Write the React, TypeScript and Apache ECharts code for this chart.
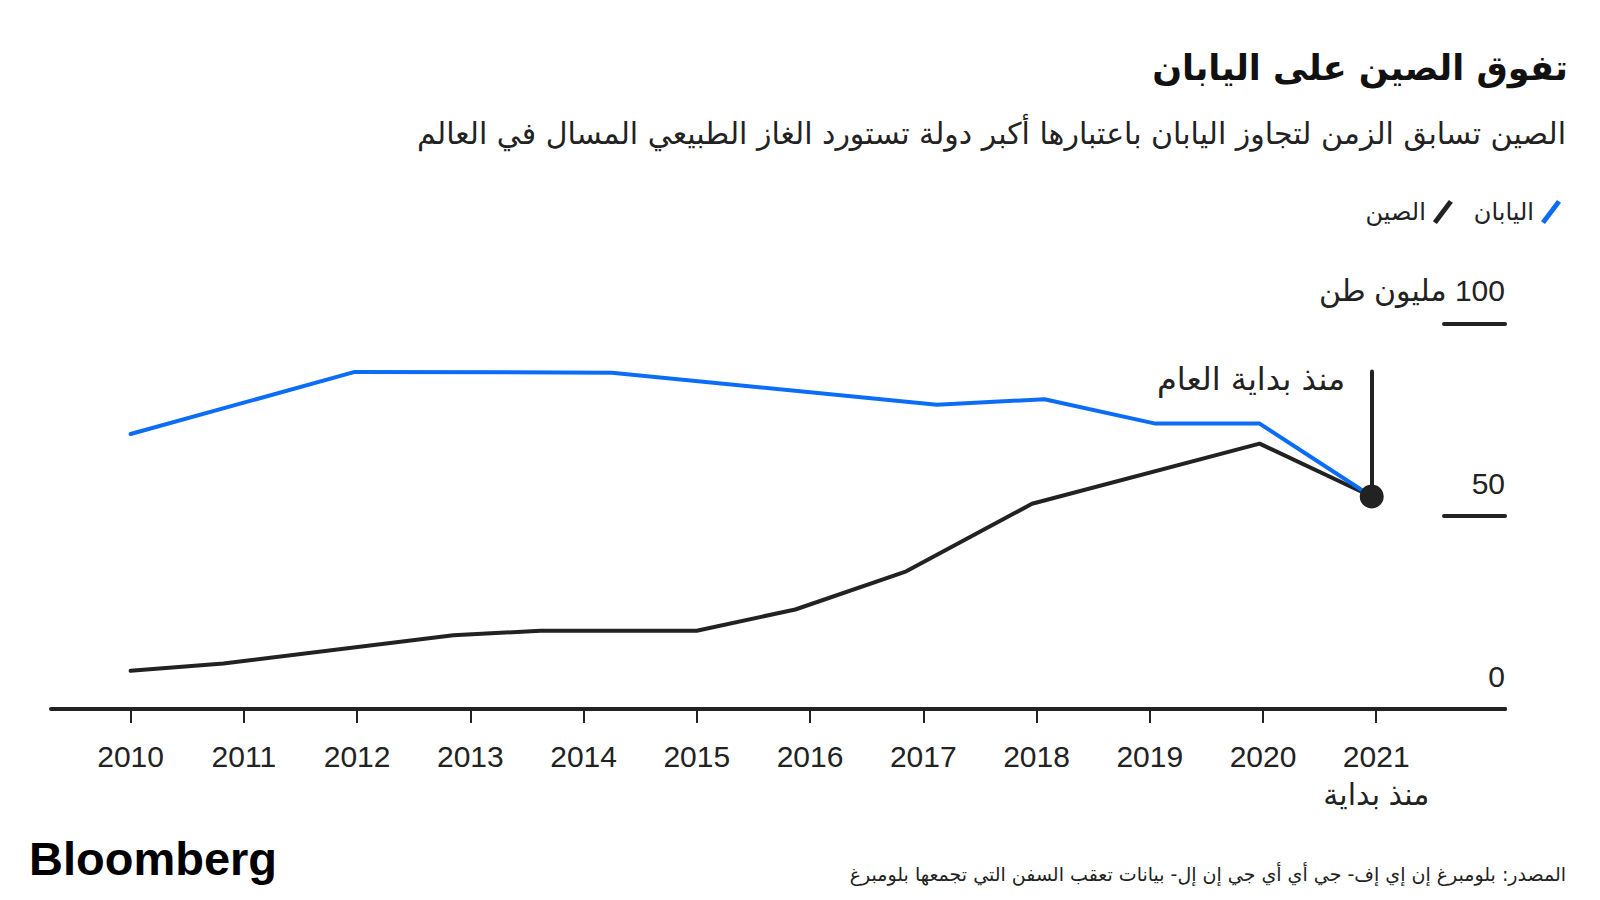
import React, { useEffect, useRef } from 'react';
import * as echarts from 'echarts';

// ---- Data ----
const yearTicks = [2010, 2011, 2012, 2013, 2014, 2015, 2016, 2017, 2018, 2019, 2020, 2021];
const yTicks = [0, 50, 100];

const japanName = 'اليابان';
const japanX = [2010.0, 2011.98, 2014.25, 2017.12, 2018.07, 2019.05, 2019.97, 2020.96];
const japanY = [71.3, 87.4, 87.2, 78.9, 80.3, 74.0, 74.0, 55.1];

const chinaName = 'الصين';
const chinaX = [2010.0, 2010.82, 2012.85, 2013.62, 2015.0, 2015.87, 2016.85, 2017.96, 2019.97, 2020.96];
const chinaY = [9.9, 11.8, 19.1, 20.3, 20.3, 25.8, 35.7, 53.2, 68.8, 55.1];

const annotationTop = 87.5;
const annotationText = 'منذ بداية العام';
const lastYearSub = 'منذ بداية';
const unitText = '\u200F100 مليون طن';

const titleText = 'تفوق الصين على اليابان';
const subtitleText = 'الصين تسابق الزمن لتجاوز اليابان باعتبارها أكبر دولة تستورد الغاز الطبيعي المسال في العالم';
const sourceText = '\u200Fالمصدر: بلومبرغ إن إي إف- جي أي أي جي إن إل- بيانات تعقب السفن التي تجمعها بلومبرغ';

const BLUE = '#0b6df6';
const INK = '#222222';
const LATIN = "'Liberation Sans', Arial, 'DejaVu Sans', sans-serif";
const ARABIC = "'DejaVu Sans', sans-serif";

const zip = (xs: number[], ys: number[]) => xs.map((x, i) => [x, ys[i]]);

export default function App() {
  const ref = useRef<HTMLDivElement>(null);
  useEffect(() => {
    if (!ref.current) return;
    const chart = echarts.init(ref.current, null, { renderer: 'svg' });
    const lastX = chinaX[chinaX.length - 1];
    const lastY = chinaY[chinaY.length - 1];
    const slash = 'path://M8,0 L10,1.4 L2,12 L0,10.6 Z';
    chart.setOption({
      animation: false,
      backgroundColor: '#ffffff',
      textStyle: { fontFamily: LATIN, color: INK },
      grid: { left: 51, right: 95, top: 323.3, bottom: 191, containLabel: false },
      legend: {
        data: [
          { name: chinaName, icon: slash },
          { name: japanName, icon: slash },
        ],
        right: 34,
        top: 195,
        itemWidth: 20,
        itemHeight: 24,
        itemGap: 21,
        align: 'right',
        selectedMode: false,
        textStyle: { fontFamily: ARABIC, fontSize: 24, color: INK, padding: [0, 2, 0, 0] },
      },
      xAxis: {
        type: 'value',
        min: 2009.297,
        max: 2022.137,
        splitLine: { show: false },
        axisLine: { show: true, lineStyle: { color: INK, width: 4, cap: 'round' } },
        axisTick: {
          show: true,
          customValues: yearTicks,
          length: 14,
          lineStyle: { color: INK, width: 2 },
        },
        axisLabel: {
          show: true,
          customValues: yearTicks,
          margin: 28,
          fontSize: 30,
          lineHeight: 38,
          color: INK,
          fontFamily: LATIN,
          formatter: (v: number) => (v === 2021 ? '2021\n' + lastYearSub : String(v)),
        },
      },
      yAxis: {
        type: 'value',
        position: 'right',
        min: 0,
        max: 100,
        interval: 50,
        splitLine: { show: false },
        axisLine: { show: false },
        axisTick: {
          show: true,
          inside: true,
          length: 61,
          lineStyle: { color: INK, width: 4, cap: 'round' },
        },
        axisLabel: {
          show: true,
          inside: true,
          margin: 0,
          fontSize: 30,
          color: INK,
          fontFamily: LATIN,
          verticalAlign: 'bottom',
          padding: [0, 0, 18, 0],
          formatter: (v: number) => (v === 100 ? unitText : String(v)),
        },
      },
      series: [
        {
          name: chinaName,
          type: 'line',
          data: zip(chinaX, chinaY),
          showSymbol: false,
          color: INK,
          lineStyle: { color: INK, width: 4, cap: 'round', join: 'round' },
          itemStyle: { color: INK },
          z: 2,
        },
        {
          name: japanName,
          type: 'line',
          data: zip(japanX, japanY),
          showSymbol: false,
          color: BLUE,
          lineStyle: { color: BLUE, width: 4, cap: 'round', join: 'round' },
          itemStyle: { color: BLUE },
          z: 3,
        },
        {
          name: 'ytd',
          type: 'scatter',
          data: [[lastX, lastY]],
          symbol: 'circle',
          symbolSize: 24,
          itemStyle: { color: INK, opacity: 1 },
          z: 5,
          markLine: {
            silent: true,
            symbol: ['none', 'none'],
            lineStyle: { color: INK, width: 4, type: 'solid', cap: 'round', opacity: 1 },
            label: { show: false },
            data: [[{ coord: [lastX, lastY] }, { coord: [lastX, annotationTop] }]],
          },
          markPoint: {
            silent: true,
            symbol: 'circle',
            symbolSize: 1,
            itemStyle: { color: 'rgba(0,0,0,0)' },
            data: [
              {
                coord: [lastX, annotationTop],
                label: {
                  show: true,
                  position: 'left',
                  distance: 26,
                  offset: [0, 7],
                  formatter: annotationText,
                  fontFamily: ARABIC,
                  fontSize: 32,
                  color: INK,
                },
              },
            ],
          },
        },
      ],
      graphic: [
        {
          type: 'text',
          right: 32,
          top: 50,
          style: { text: titleText, fontFamily: ARABIC, fontWeight: 'bold', fontSize: 35, fill: '#111' },
        },
        {
          type: 'text',
          right: 34,
          top: 118,
          style: { text: subtitleText, fontFamily: ARABIC, fontSize: 30, fill: INK },
        },
        {
          type: 'text',
          left: 29,
          top: 835,
          style: { text: 'Bloomberg', fontFamily: LATIN, fontWeight: 'bold', fontSize: 47, fill: '#000' },
        },
        {
          type: 'text',
          right: 34,
          top: 864,
          style: { text: sourceText, fontFamily: ARABIC, fontSize: 19, fill: INK },
        },
      ],
    });
    return () => chart.dispose();
  }, []);
  return (
    <div
      ref={ref}
      style={{ position: 'fixed', left: 0, top: 0, width: 1600, height: 900, background: '#fff' }}
    />
  );
}
